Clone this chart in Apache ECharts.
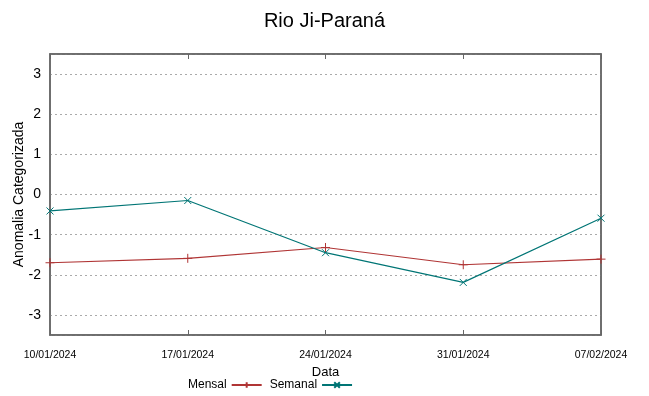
<!DOCTYPE html>
<html><head><meta charset="utf-8">
<script src="https://cdn.jsdelivr.net/npm/echarts@6/dist/echarts.min.js"></script>
<style>html,body{margin:0;padding:0;background:#fff}#c{width:649px;height:396px}</style>
</head><body><div id="c"></div>
<script>
const title = 'Rio Ji-Paraná';
const dates = ['10/01/2024','17/01/2024','24/01/2024','31/01/2024','07/02/2024'];
const mensal = [-1.70, -1.59, -1.32, -1.75, -1.61];
const semanal = [-0.41, -0.15, -1.45, -2.19, -0.59];
const yLabel = 'Anomalia Categorizada';
const xLabel = 'Data';

const font = 'Liberation Sans, Arial, sans-serif';
const plus = 'path://M0,-1L0,1M-1,0L1,0';
const cross = 'path://M-1,-1L1,1M-1,1L1,-1';
const chart = echarts.init(document.getElementById('c'), null, {renderer:'canvas'});
const yCommon = {
  type:'value', min:-3.5, max:3.5, splitNumber:7,
  axisTick:{inside:true, length:5, lineStyle:{color:'#000', width:1}},
  axisLine:{show:true, onZero:false, lineStyle:{color:'#666', width:1.5}}
};
chart.setOption({
  animation:false,
  title:{text:title, left:'center', top:6, textStyle:{fontFamily:font, fontSize:20, fontWeight:'normal', color:'#000'}},
  grid:{left:50, right:48, top:54, bottom:61, show:true, borderColor:'#666', borderWidth:1.5, containLabel:false, outerBoundsMode:'none'},
  legend:{
    data:['Mensal','Semanal'], left:183, top:374, align:'right',
    itemWidth:30, itemHeight:7, itemGap:7,
    textStyle:{fontFamily:font, fontSize:12, color:'#000'}
  },
  xAxis:[{
    type:'category', data:dates, boundaryGap:false,
    name:xLabel, nameLocation:'middle', nameGap:30,
    nameTextStyle:{fontFamily:font, fontSize:13, color:'#000'},
    axisTick:{inside:true, length:5, lineStyle:{color:'#666'}},
    axisLine:{show:true, onZero:false, lineStyle:{color:'#666', width:1.5}},
    axisLabel:{fontFamily:font, fontSize:10.5, color:'#000', margin:15, showMinLabel:true, showMaxLabel:true, interval:0},
    splitLine:{show:false}
  },{
    type:'category', data:dates, boundaryGap:false, position:'top',
    axisTick:{inside:true, length:5, lineStyle:{color:'#666'}},
    axisLine:{show:true, onZero:false, lineStyle:{color:'#666', width:1.5}},
    axisLabel:{show:false}, splitLine:{show:false}
  }],
  yAxis:[Object.assign({}, yCommon, {
    name:yLabel, nameLocation:'middle', nameGap:24, nameRotate:90, nameMoveOverlap:false,
    nameTextStyle:{fontFamily:font, fontSize:14, color:'#000'},
    axisLabel:{fontFamily:font, fontSize:14, color:'#000', margin:9, showMinLabel:false, showMaxLabel:false},
    splitLine:{show:true, lineStyle:{color:'#aaa', width:1, type:[2,3]}}
  }), Object.assign({}, yCommon, {
    position:'right', axisLabel:{show:false}, splitLine:{show:false}
  })],
  series:[{
    name:'Mensal', type:'line', data:mensal, symbol:plus, symbolSize:9,
    lineStyle:{color:'#b03535', width:1.2},
    itemStyle:{color:'#b03535', borderColor:'#b03535', borderWidth:1}
  },{
    name:'Semanal', type:'line', data:semanal, symbol:cross, symbolSize:7,
    lineStyle:{color:'#007575', width:1.2},
    itemStyle:{color:'#007575', borderColor:'#007575', borderWidth:1}
  }]
});
</script></body></html>
